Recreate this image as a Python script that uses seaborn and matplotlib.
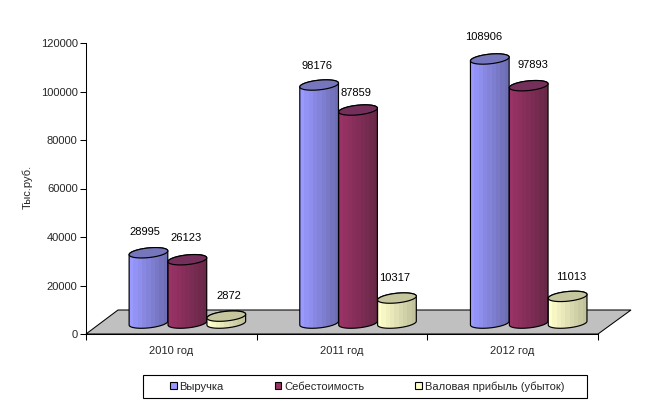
import numpy as np
import pandas as pd
import seaborn as sns
import matplotlib.pyplot as plt
from matplotlib.colors import LinearSegmentedColormap
from matplotlib.patches import Polygon, Rectangle

years = ["2010 год", "2011 год", "2012 год"]
series = ["Выручка", "Себестоимость", "Валовая прибыль (убыток)"]
revenue = [28995, 98176, 108906]
cost = [26123, 87859, 97893]
profit = [2872, 10317, 11013]
yticks = [0, 20000, 40000, 60000, 80000, 100000, 120000]

# light side, dark side, lid
colors = ["#9999FF", "#993366", "#FFFFCC"]
dark = ["#6E6EB4", "#692848", "#C2C29C"]
lids = ["#7676BC", "#74305A", "#C6C69E"]

sns.set_style("white")
plt.rcParams["font.family"] = ["Liberation Sans", "DejaVu Sans"]

df = pd.DataFrame({
    "year": years * 3,
    "series": np.repeat(series, 3),
    "value": revenue + cost + profit,
})

fig = plt.figure(figsize=(6.47, 4.08), dpi=100)
ax = fig.add_axes([86 / 647, (408 - 334) / 408, 512 / 647, 291 / 408])

sns.barplot(data=df, x="year", y="value", hue="series", hue_order=series,
            palette=colors, saturation=1, width=0.684, dodge=True,
            edgecolor="black", linewidth=0.8, ax=ax)

ax.set_xlim(-0.5, 2.5)
ax.set_ylim(0, 120000)
sx = 512 / 3
sy = 291 / 120000

# 3d look: bars stand on a floor that is shifted back from the axis
shift_x = 0.094
shift_y = 4500
floor = Polygon([(-0.5, 0), (2.5, 0), (2.5 + 33 / sx, 24 / sy), (-0.5 + 32 / sx, 24 / sy)],
                closed=True, facecolor="#C0C0C0", edgecolor="black", lw=0.75,
                clip_on=False, zorder=1)
ax.add_patch(floor)


def arc(xc, yc, width, t):
    # tilted ellipse, worked out in pixels and brought back to data units
    a = width * sx / 2
    b = 4.8
    tilt = np.deg2rad(6)
    px = a * np.cos(t) * np.cos(tilt) - b * np.sin(t) * np.sin(tilt)
    py = a * np.cos(t) * np.sin(tilt) + b * np.sin(t) * np.cos(tilt)
    return np.column_stack([xc + px / sx, yc + py / sy])


# pixel nudges of the value labels, they are not centred in the original
label_dx = [[-4, -1, 3], [-2, -2, -2], [-6, 4, 4]]
label_dy = [[21, 22, 20], [19, 17, 20], [22, 21, 19]]

z = 3
for j, cont in enumerate(ax.containers):
    cmap = LinearSegmentedColormap.from_list("c", [colors[j], dark[j]], N=9)
    for i, bar in enumerate(cont):
        x = bar.get_x() + shift_x
        w = bar.get_width()
        h = bar.get_height()
        xc = x + w / 2
        low = np.linspace(np.pi, 2 * np.pi, 40)
        up = np.linspace(0, np.pi, 40)
        hull = np.vstack([arc(xc, shift_y, w, low), arc(xc, shift_y + h, w, up)])
        outline = Polygon(hull, closed=True, facecolor="none", edgecolor="black", lw=0.85, zorder=z + 0.2)
        ax.add_patch(outline)

        bar.set_x(x)
        bar.set_y(shift_y)
        bar.set_linewidth(0)
        bar.set_zorder(z)
        bar.set_clip_path(outline)

        pad = 6 / sy
        im = ax.imshow(np.linspace(0, 1, 9).reshape(1, -1), cmap=cmap, aspect="auto",
                       extent=(x, x + w, shift_y - pad, shift_y + h + pad),
                       interpolation="nearest", zorder=z + 0.1)
        im.set_clip_path(outline)

        lid = Polygon(arc(xc, shift_y + h, w, np.linspace(0, 2 * np.pi, 80)), closed=True,
                      facecolor=lids[j], edgecolor="black", lw=0.85, zorder=z + 0.3)
        ax.add_patch(lid)

        ax.annotate(str(int(h)), (xc, shift_y + h),
                    xytext=(label_dx[i][j] * 0.72, label_dy[i][j] * 0.72),
                    textcoords="offset points", ha="center", va="center",
                    fontsize=8, color="black", zorder=20, annotation_clip=False)
        z += 1

ax.set_xlim(-0.5, 2.5)
ax.set_ylim(0, 120000)

ax.set_xlabel("")
ax.set_ylabel("")
ax.set_xticks([-0.5, 0.5, 1.5, 2.5])
ax.set_xticklabels([])
ax.set_xticks([0, 1, 2], minor=True)
ax.set_xticklabels(years, minor=True, fontsize=8)
ax.set_yticks(yticks)
ax.set_yticklabels([str(v) for v in yticks], fontsize=8)
ax.tick_params(axis="both", which="major", length=4, width=0.75, color="black",
               bottom=True, left=True, pad=2)
ax.tick_params(axis="x", which="minor", length=0, bottom=False, pad=9)
sns.despine(ax=ax)
for s in ["left", "bottom"]:
    ax.spines[s].set_color("black")
    ax.spines[s].set_linewidth(0.75)
    ax.spines[s].set_zorder(2)

fig.text(28 / 647, 1 - 187 / 408, "Тыс.руб.", rotation=90, ha="center", va="center", fontsize=8)

sns.move_legend(ax, "center left", bbox_to_anchor=(170 / 647, 1 - 386.5 / 408),
                bbox_transform=fig.transFigure, ncol=3, frameon=False, title=None,
                fontsize=8, handlelength=0.6, handleheight=0.6, handletextpad=0.25,
                columnspacing=4.6, borderpad=0, borderaxespad=0)
fig.add_artist(Rectangle((143 / 647, 1 - 398 / 408), 444 / 647, 23 / 408,
                         transform=fig.transFigure, fill=False, edgecolor="black", lw=0.8))

fig.savefig("out.png", dpi=100)
